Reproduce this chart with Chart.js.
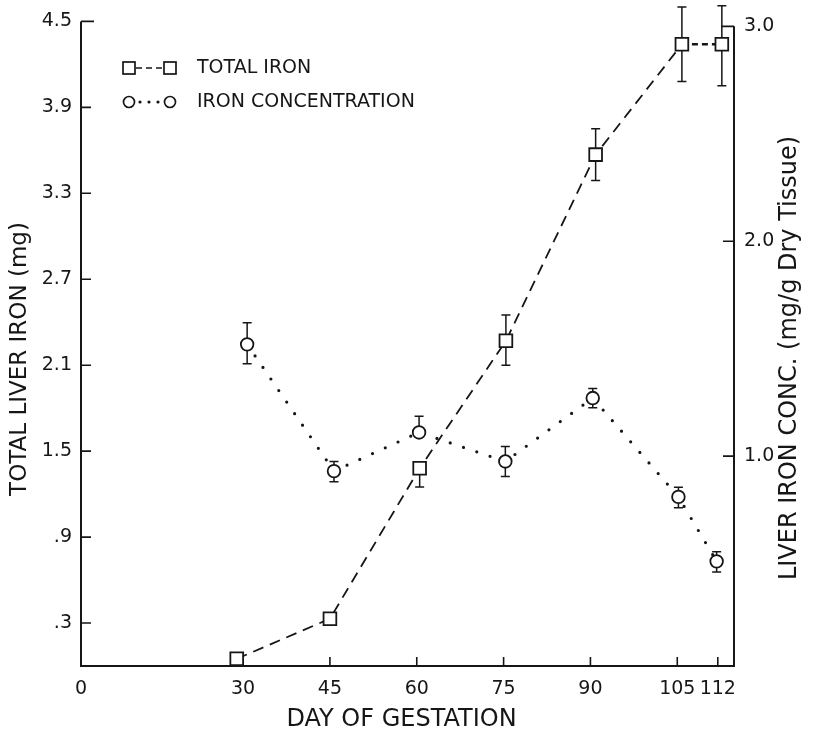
<!DOCTYPE html>
<html>
<head>
<meta charset="utf-8">
<script src="https://cdn.jsdelivr.net/npm/chart.js@4/dist/chart.umd.min.js"></script>
<style>
    html, body { margin: 0; padding: 0; background: #fff; }
    canvas { display: block; }
</style>
</head>
<body>
<canvas id="grafico" width="813" height="737"></canvas>
<script>
// dias de gestação (pontos levemente deslocados dos ticks no original)
const diasTotal = [28.9, 45, 60.5, 75.4, 90.9, 105.8, 112.7];
const ferroTotal = [0.05, 0.33, 1.38, 2.27, 3.57, 4.34, 4.34];
const erroTotalSup = [0, 0, 0, 0.18, 0.18, 0.26, 0.27];
const erroTotalInf = [0, 0, 0.13, 0.17, 0.18, 0.26, 0.29];

const diasConc = [30.7, 45.7, 60.4, 75.3, 90.4, 105.2, 111.8];
const ferroConc = [1.52, 0.93, 1.11, 0.975, 1.27, 0.81, 0.51];
const erroConcSup = [0.10, 0.045, 0.075, 0.07, 0.045, 0.045, 0.045];
const erroConcInf = [0.09, 0.05, 0, 0.07, 0.045, 0.05, 0.05];

const ticksX = [30, 45, 60, 75, 90, 105, 112];
const ticksEsq = [0.3, 0.9, 1.5, 2.1, 2.7, 3.3, 3.9, 4.5];
const ticksDir = [1, 2, 3];

const X_MIN = 2, X_MAX = 114.8;
const COR = '#161616';
const FONTE = "'DejaVu Sans', sans-serif";

const paraPontos = (xs, ys) => xs.map((x, i) => ({ x, y: ys[i] }));

// eixos com ticks para dentro
const eixos = {
    id: 'eixos',
    beforeDatasetsDraw(chart) {
        const { ctx, chartArea: { left, right, top, bottom }, scales: { x, y, y2 } } = chart;
        ctx.save();
        ctx.strokeStyle = COR;
        ctx.lineWidth = 2;
        ctx.beginPath();
        ctx.moveTo(left, top);
        ctx.lineTo(left, bottom);
        ctx.lineTo(right, bottom);
        ctx.lineTo(right, y2.getPixelForValue(3));
        ctx.stroke();

        ctx.lineWidth = 1.6;
        ctx.beginPath();
        ticksEsq.forEach(v => {
            const py = y.getPixelForValue(v);
            ctx.moveTo(left, py); ctx.lineTo(left + (v === 4.5 ? 13 : 10), py);
        });
        ticksX.forEach(v => {
            const px = x.getPixelForValue(v);
            ctx.moveTo(px, bottom); ctx.lineTo(px, bottom - 9);
        });
        ticksDir.forEach(v => {
            const py = y2.getPixelForValue(v);
            ctx.moveTo(right, py); ctx.lineTo(right - (v === 3 ? 13 : 11), py);
        });
        ctx.stroke();
        ctx.restore();
    }
};

// barras de erro
const barrasErro = {
    id: 'barrasErro',
    beforeDatasetsDraw(chart) {
        const { ctx, scales } = chart;
        const series = [
            { xs: diasTotal, ys: ferroTotal, sup: erroTotalSup, inf: erroTotalInf, eixo: scales.y },
            { xs: diasConc, ys: ferroConc, sup: erroConcSup, inf: erroConcInf, eixo: scales.y2 }
        ];
        ctx.save();
        ctx.strokeStyle = COR;
        ctx.lineWidth = 1.5;
        series.forEach(s => {
            s.xs.forEach((d, i) => {
                const px = scales.x.getPixelForValue(d);
                const py = s.eixo.getPixelForValue(s.ys[i]);
                ctx.beginPath();
                if (s.sup[i] > 0) {
                    const pt = s.eixo.getPixelForValue(s.ys[i] + s.sup[i]);
                    ctx.moveTo(px, py); ctx.lineTo(px, pt);
                    ctx.moveTo(px - 4.5, pt); ctx.lineTo(px + 4.5, pt);
                }
                if (s.inf[i] > 0) {
                    const pb = s.eixo.getPixelForValue(s.ys[i] - s.inf[i]);
                    ctx.moveTo(px, py); ctx.lineTo(px, pb);
                    ctx.moveTo(px - 4.5, pb); ctx.lineTo(px + 4.5, pb);
                }
                ctx.stroke();
            });
        });
        ctx.restore();
    }
};

// legenda e títulos dos eixos
const textos = {
    id: 'textos',
    afterDraw(chart) {
        const { ctx, chartArea: { left, right, top, bottom } } = chart;
        ctx.save();
        ctx.fillStyle = COR;
        ctx.strokeStyle = COR;

        // legenda
        const lx1 = 129, lx2 = 170, ly1 = 68, ly2 = 102;
        ctx.lineWidth = 1.7;
        [lx1, lx2].forEach(cx => { ctx.fillStyle = '#fff'; ctx.fillRect(cx - 6, ly1 - 6, 12, 12); ctx.strokeRect(cx - 6, ly1 - 6, 12, 12); });
        ctx.beginPath();
        ctx.setLineDash([6, 4]);
        ctx.moveTo(lx1 + 7, ly1); ctx.lineTo(lx2 - 7, ly1);
        ctx.stroke();
        ctx.setLineDash([]);
        [lx1, lx2].forEach(cx => { ctx.beginPath(); ctx.arc(cx, ly2, 5.5, 0, Math.PI * 2); ctx.stroke(); });
        ctx.fillStyle = COR;
        [140, 149, 158].forEach(cx => { ctx.beginPath(); ctx.arc(cx, ly2, 1.6, 0, Math.PI * 2); ctx.fill(); });

        ctx.font = `19px ${FONTE}`;
        ctx.textBaseline = 'middle';
        ctx.textAlign = 'left';
        ctx.fillText(chart.data.datasets[0].label, 197, ly1);
        ctx.fillText(chart.data.datasets[1].label, 197, ly2);

        // títulos
        ctx.font = `24px ${FONTE}`;
        ctx.textAlign = 'center';
        ctx.fillText('DAY OF GESTATION', (left + right) / 2 - 6, 720);

        ctx.font = `23px ${FONTE}`;
        ctx.save();
        ctx.translate(20, 359);
        ctx.rotate(-Math.PI / 2);
        ctx.fillText('TOTAL LIVER IRON (mg)', 0, 0);
        ctx.restore();

        ctx.font = `24px ${FONTE}`;
        ctx.save();
        ctx.translate(790, 358);
        ctx.rotate(-Math.PI / 2);
        ctx.fillText('LIVER IRON CONC. (mg/g Dry Tissue)', 0, 0);
        ctx.restore();

        ctx.restore();
    }
};

const fonteTicks = { family: FONTE, size: 19 };

new Chart(document.getElementById('grafico').getContext('2d'), {
    type: 'line',
    data: {
        datasets: [
            {
                label: 'TOTAL IRON',
                data: paraPontos(diasTotal, ferroTotal),
                yAxisID: 'y',
                borderColor: COR, borderWidth: 1.8, borderDash: [11, 7],
                pointStyle: 'rect', pointRadius: 9, pointBorderWidth: 1.8,
                pointBackgroundColor: '#fff', pointBorderColor: COR,
                segment: {
                    borderDash: c => c.p0DataIndex === 5 ? [6, 4] : undefined,
                    borderWidth: c => c.p0DataIndex === 5 ? 2.6 : undefined
                }
            },
            {
                label: 'IRON CONCENTRATION',
                data: paraPontos(diasConc, ferroConc),
                yAxisID: 'y2',
                borderColor: COR, borderWidth: 3.2, borderDash: [0, 14], borderCapStyle: 'round',
                pointStyle: 'circle', pointRadius: 6.3, pointBorderWidth: 1.8,
                pointBackgroundColor: '#fff', pointBorderColor: COR
            }
        ]
    },
    options: {
        responsive: false,
        animation: false,
        layout: { padding: { top: 20, left: 0, right: 0, bottom: 0 } },
        plugins: { legend: { display: false }, tooltip: { enabled: false } },
        scales: {
            x: {
                type: 'linear', min: X_MIN, max: X_MAX,
                afterBuildTicks: s => { s.ticks = [X_MIN, ...ticksX].map(v => ({ value: v })); },
                afterFit: s => { s.height = 71; },
                grid: { display: false, drawTicks: false }, border: { display: false },
                ticks: {
                    autoSkip: false, maxRotation: 0, padding: 12, color: COR, font: fonteTicks,
                    callback: v => v === X_MIN ? '0' : String(v)
                }
            },
            y: {
                position: 'left', min: 0, max: 4.5,
                afterBuildTicks: s => { s.ticks = ticksEsq.map(v => ({ value: v })); },
                afterFit: s => { s.width = 81; },
                grid: { display: false, drawTicks: false }, border: { display: false },
                ticks: {
                    padding: 9, color: COR, font: fonteTicks,
                    callback: v => v.toFixed(1).replace(/^0/, '')
                }
            },
            y2: {
                position: 'right', min: 0.023, max: 3.023,
                afterBuildTicks: s => { s.ticks = ticksDir.map(v => ({ value: v })); },
                afterFit: s => { s.width = 79; },
                grid: { display: false, drawTicks: false }, border: { display: false },
                ticks: {
                    padding: 10, color: COR, font: fonteTicks,
                    callback: v => v.toFixed(1)
                }
            }
        }
    },
    plugins: [eixos, barrasErro, textos]
});
</script>
</body>
</html>
